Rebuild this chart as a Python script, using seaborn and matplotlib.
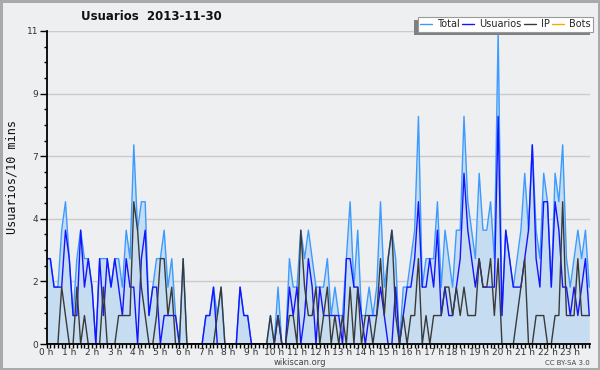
"""
Usuarios por intervalo de 10 minutos (wikiscan, 2013-11-30).
Lineas Total / Usuarios / IP / Bots con el area del total rellena.
"""

import pandas as pd
import matplotlib
matplotlib.use("Agg")
import matplotlib.pyplot as plt
import seaborn as sns
from matplotlib.lines import Line2D
from matplotlib.patches import Rectangle
from matplotlib.ticker import FixedLocator, MultipleLocator

# ==============================================================================
# DATOS (144 intervalos de 10 min)
# ==============================================================================

total = [3, 3, 2, 2, 4, 5,   3, 1, 3, 4, 3, 3,   2, 0, 3, 3, 3, 2,   3, 3, 2, 4, 3, 7,
         4, 5, 5, 1, 2, 3,   3, 4, 2, 3, 1, 0,   3, 0, 0, 0, 0, 0,   1, 1, 2, 1, 2, 0,
         0, 0, 0, 2, 1, 1,   0, 0, 0, 0, 0, 1,   0, 2, 0, 0, 3, 2,   2, 4, 3, 4, 3, 2,
         2, 2, 3, 1, 2, 1,   1, 3, 5, 2, 4, 1,   1, 2, 1, 2, 5, 2,   3, 4, 3, 0, 2, 2,
         3, 4, 8, 2, 3, 3,   3, 5, 2, 4, 3, 2,   4, 4, 8, 5, 4, 3,   6, 4, 4, 5, 3, 11,
         1, 4, 3, 2, 3, 4,   6, 4, 7, 4, 3, 6,   5, 2, 6, 5, 7, 3,   2, 3, 4, 3, 4, 2]

usuarios = [3, 3, 2, 2, 2, 4,   3, 1, 1, 4, 2, 3,   2, 0, 3, 1, 3, 2,   3, 2, 1, 3, 2, 2,
            0, 3, 4, 1, 2, 2,   0, 1, 1, 1, 1, 0,   0, 0, 0, 0, 0, 0,   1, 1, 2, 0, 0, 0,
            0, 0, 0, 2, 1, 1,   0, 0, 0, 0, 0, 0,   0, 1, 0, 0, 2, 1,   2, 0, 1, 3, 2, 0,
            2, 1, 1, 1, 1, 1,   0, 3, 3, 2, 2, 1,   0, 1, 1, 1, 2, 1,   0, 0, 2, 0, 1, 2,
            2, 3, 5, 2, 2, 3,   2, 4, 1, 2, 1, 1,   2, 3, 6, 4, 3, 2,   3, 2, 2, 2, 2, 8,
            1, 4, 3, 2, 2, 2,   3, 4, 7, 3, 2, 5,   5, 2, 5, 4, 2, 2,   1, 2, 1, 2, 3, 1]

ip = [0, 0, 0, 0, 2, 1,   0, 0, 2, 0, 1, 0,   0, 0, 0, 2, 0, 0,   0, 1, 1, 1, 1, 5,
      4, 2, 1, 0, 0, 1,   3, 3, 1, 2, 0, 0,   3, 0, 0, 0, 0, 0,   0, 0, 0, 1, 2, 0,
      0, 0, 0, 0, 0, 0,   0, 0, 0, 0, 0, 1,   0, 1, 0, 0, 1, 1,   0, 4, 2, 1, 1, 2,
      0, 1, 2, 0, 1, 0,   1, 0, 2, 0, 2, 0,   1, 1, 0, 1, 3, 1,   3, 4, 1, 0, 1, 0,
      1, 1, 3, 0, 1, 0,   1, 1, 1, 2, 2, 1,   2, 1, 2, 1, 1, 1,   3, 2, 2, 3, 1, 3,
      0, 0, 0, 0, 1, 2,   3, 0, 0, 1, 1, 1,   0, 0, 1, 1, 5, 1,   1, 1, 3, 1, 1, 1]

bots = [0] * 144

horas = [f"{h} h" for h in range(24)]
y_ticks = [0, 2.2, 4.4, 6.6, 8.8, 11]
y_labels = ["0", "2", "4", "7", "9", "11"]

SERIES = ["Bots", "Total", "Usuarios", "IP"]
COLORES = {"Total": "#3d9bff", "Usuarios": "#1414ff", "IP": "#3a3a3a", "Bots": "#ffa500"}
FONDO = "#eeeff1"

# ==============================================================================
# FIGURA
# ==============================================================================

slots = list(range(len(total)))
df = pd.DataFrame({"slot": slots, "Total": total, "Usuarios": usuarios,
                   "IP": ip, "Bots": bots})
largo = df.melt(id_vars="slot", var_name="serie", value_name="valor")

sns.set_style("ticks")
plt.rcParams["font.family"] = ["DejaVu Sans"]

fig = plt.figure(figsize=(6, 3.7), dpi=100)
fig.patch.set_facecolor(FONDO)
fig.patch.set_edgecolor("#a9a9a9")
fig.patch.set_linewidth(2.5)

ax = fig.add_axes([46.5 / 600, 1 - 344 / 370, (590 - 46.5) / 600, (344 - 31) / 370])
ax.set_facecolor(FONDO)

ax.fill_between(df["slot"], df["Total"], 0, color="#c6dcf0", lw=0, zorder=1)
sns.lineplot(data=largo, x="slot", y="valor", hue="serie", hue_order=SERIES,
             palette=COLORES, estimator=None, lw=1.0, legend=False, ax=ax, zorder=2)

ax.set_xlim(0, 143.2)
ax.set_ylim(0, 11)

# ejes
for lado in ["top", "right"]:
    ax.spines[lado].set_visible(False)
for lado in ["left", "bottom"]:
    ax.spines[lado].set_color("black")
    ax.spines[lado].set_linewidth(1.3)
    ax.spines[lado].set_zorder(5)

ax.xaxis.set_major_locator(FixedLocator(list(range(0, 144, 6))))
ax.set_xticklabels(horas)
ax.xaxis.set_minor_locator(MultipleLocator(1))
ax.yaxis.set_major_locator(FixedLocator(y_ticks))
ax.set_yticklabels(y_labels)
ax.yaxis.set_minor_locator(MultipleLocator(0.55))

ax.tick_params(axis="x", which="both", length=3, width=1, color="black",
               labelsize=6.5, labelcolor="#333333", pad=0)
ax.tick_params(axis="y", which="major", length=5, width=1, color="black",
               labelsize=6.5, labelcolor="#333333", pad=1)
ax.tick_params(axis="y", which="minor", length=2.5, width=1, color="black")

ax.yaxis.grid(True, which="major", color="#cbcbcb", lw=1)
ax.set_axisbelow(True)

ax.set_xlabel("")
ax.set_ylabel("")

# textos
fig.text(12 / 600, 1 - 177 / 370, "Usuarios/10 mins", rotation=90, ha="center",
         va="center", family="DejaVu Sans Mono", fontsize=8.5, color="#111111")
fig.text(151 / 600, 1 - 17 / 370, "Usuarios  2013-11-30", ha="center", va="center",
         fontsize=8.5, fontweight="bold", color="#111111")
fig.text(300 / 600, 1 - 362.5 / 370, "wikiscan.org", ha="center", va="center",
         fontsize=6, color="#444444")
fig.text(590 / 600, 1 - 363 / 370, "CC BY-SA 3.0", ha="right", va="center",
         fontsize=5, color="#444444")

# leyenda con sombra desplazada a la izquierda
handles = [Line2D([], [], color=COLORES[s], lw=1.0) for s in ["Total", "Usuarios", "IP", "Bots"]]
leg = fig.legend(handles, ["Total", "Usuarios", "IP", "Bots"], ncol=4,
                 loc="upper right", bbox_to_anchor=(593 / 600, 1 - 17 / 370),
                 fontsize=7, frameon=True, fancybox=False, framealpha=1,
                 edgecolor="#9a9a9a", handlelength=1.2, handletextpad=0.5,
                 columnspacing=0.3, borderpad=0.25, borderaxespad=0)
leg.get_frame().set_linewidth(0.8)
leg.set_zorder(6)

fig.canvas.draw()
bb = leg.get_window_extent().transformed(fig.transFigure.inverted())
fig.patches.append(Rectangle((bb.x0 - 3.5 / 600, bb.y0 - 3.5 / 370), bb.width, bb.height,
                             transform=fig.transFigure, facecolor="#808080",
                             edgecolor="none", zorder=5))

fig.savefig("out.png", dpi=100, facecolor=fig.get_facecolor())
